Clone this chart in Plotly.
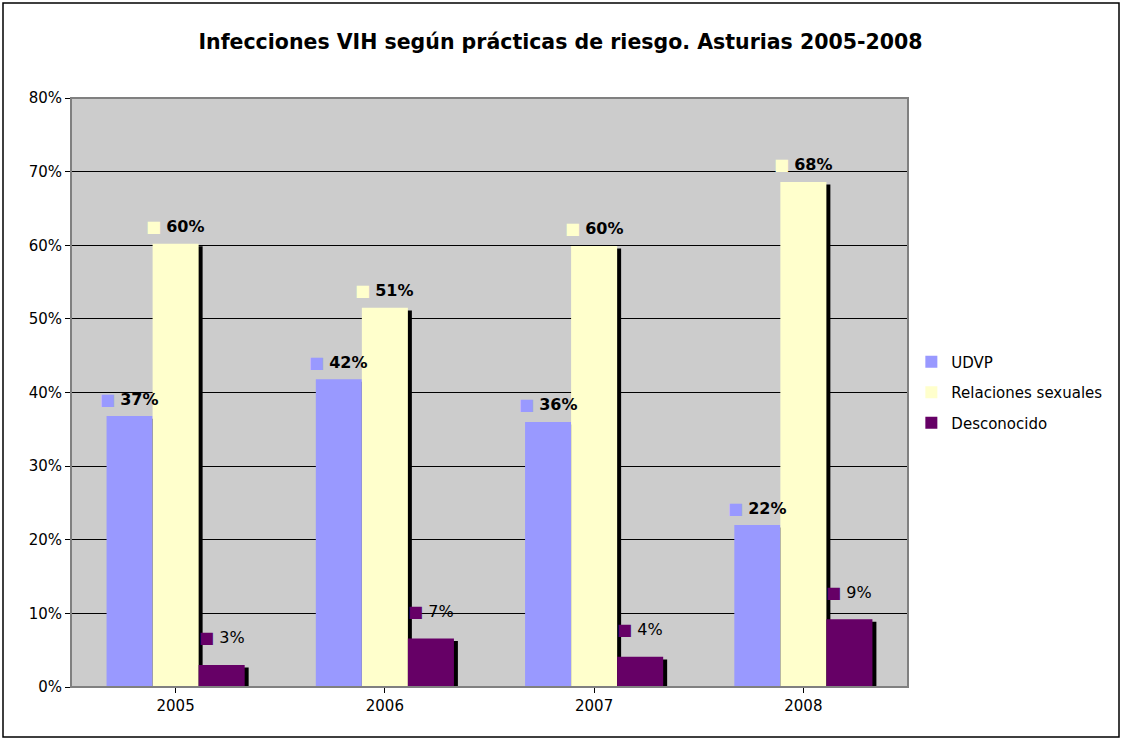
import plotly.graph_objects as go

years = ["2005", "2006", "2007", "2008"]
series_names = ["UDVP", "Relaciones sexuales", "Desconocido"]
udvp = [0.368, 0.418, 0.360, 0.220]
relaciones = [0.602, 0.515, 0.599, 0.686]
desconocido = [0.030, 0.066, 0.041, 0.092]
label_udvp = ["37%", "42%", "36%", "22%"]
label_rel = ["60%", "51%", "60%", "68%"]
label_desc = ["3%", "7%", "4%", "9%"]

colors = ["#9999FF", "#FFFFCC", "#660066"]
all_vals = [udvp, relaciones, desconocido]
all_labels = [label_udvp, label_rel, label_desc]
bold = [True, True, False]
label_gap = [17, 17, 27]

W = 0.22
shadow_dx = 0.019
shadow_dy = 0.0035
FONT = "DejaVu Sans"

fig = go.Figure()
xs = list(range(len(years)))
annotations = []
for i, (name, vals, col) in enumerate(zip(series_names, all_vals, colors)):
    off = -1.5 * W + i * W
    fig.add_trace(go.Bar(
        x=xs, y=[v - shadow_dy for v in vals], width=W, offset=off + shadow_dx,
        marker=dict(color="black", line=dict(width=0)), showlegend=False, hoverinfo="skip"))
    fig.add_trace(go.Bar(
        x=xs, y=vals, width=W, offset=off, name=name, legendgroup=name,
        marker=dict(color=col, line=dict(width=0))))
    for j, (v, lab) in enumerate(zip(vals, all_labels[i])):
        t = f"<b>{lab}</b>" if bold[i] else lab
        annotations.append(dict(
            x=xs[j] + off + W / 2, y=v, xref="x", yref="y",
            text=f"<span style='color:{col}'>■</span> {t}",
            showarrow=False, yshift=label_gap[i], yanchor="middle", xanchor="center",
            font=dict(family=FONT, size=16, color="black")))

# plot border and outer chart border
shapes = [
    dict(type="rect", xref="paper", yref="paper", x0=0, x1=1, y0=0, y1=1,
         line=dict(color="#808080", width=2), layer="above"),
    dict(type="rect", xref="paper", yref="paper",
         x0=-68 / 837, x1=1 + 211 / 837, y0=-50 / 589, y1=1 + 95 / 589,
         line=dict(color="black", width=1.5)),
]

fig.update_layout(
    width=1121, height=738,
    autosize=False,
    margin=dict(l=71, r=213, t=98, b=51),
    paper_bgcolor="white", plot_bgcolor="#CCCCCC",
    barmode="overlay",
    font=dict(family=FONT, size=15, color="black"),
    title=dict(text="<b>Infecciones VIH según prácticas de riesgo. Asturias 2005-2008</b>",
               x=0.5, xanchor="center", y=1 - 42 / 738, yanchor="middle",
               font=dict(family=FONT, size=20.5, color="black")),
    xaxis=dict(tickmode="array", tickvals=xs, ticktext=years, range=[-0.5, 3.5],
               showgrid=False, zeroline=False, showline=True, linecolor="black", linewidth=1,
               ticks="outside", ticklen=5, tickcolor="black", tickson="boundaries",
               tickfont=dict(size=15)),
    yaxis=dict(range=[0, 0.8], dtick=0.1, tickformat=".0%", showgrid=True,
               gridcolor="black", gridwidth=1, zeroline=False, showline=True,
               linecolor="#808080", linewidth=1, ticks="outside", ticklen=5,
               tickcolor="black", tickfont=dict(size=15)),
    legend=dict(x=1.004, xanchor="left", y=0.5, yanchor="middle",
                font=dict(family=FONT, size=15, color="black"),
                itemwidth=30, tracegroupgap=8, bgcolor="rgba(0,0,0,0)"),
    annotations=annotations,
    shapes=shapes,
)

fig.write_html(
    "out.html",
    config={"responsive": False, "displayModeBar": False},
    post_script=("document.body.style.margin='0';"
                 "document.body.style.overflow='hidden';"
                 "document.documentElement.style.overflow='hidden';"),
)
